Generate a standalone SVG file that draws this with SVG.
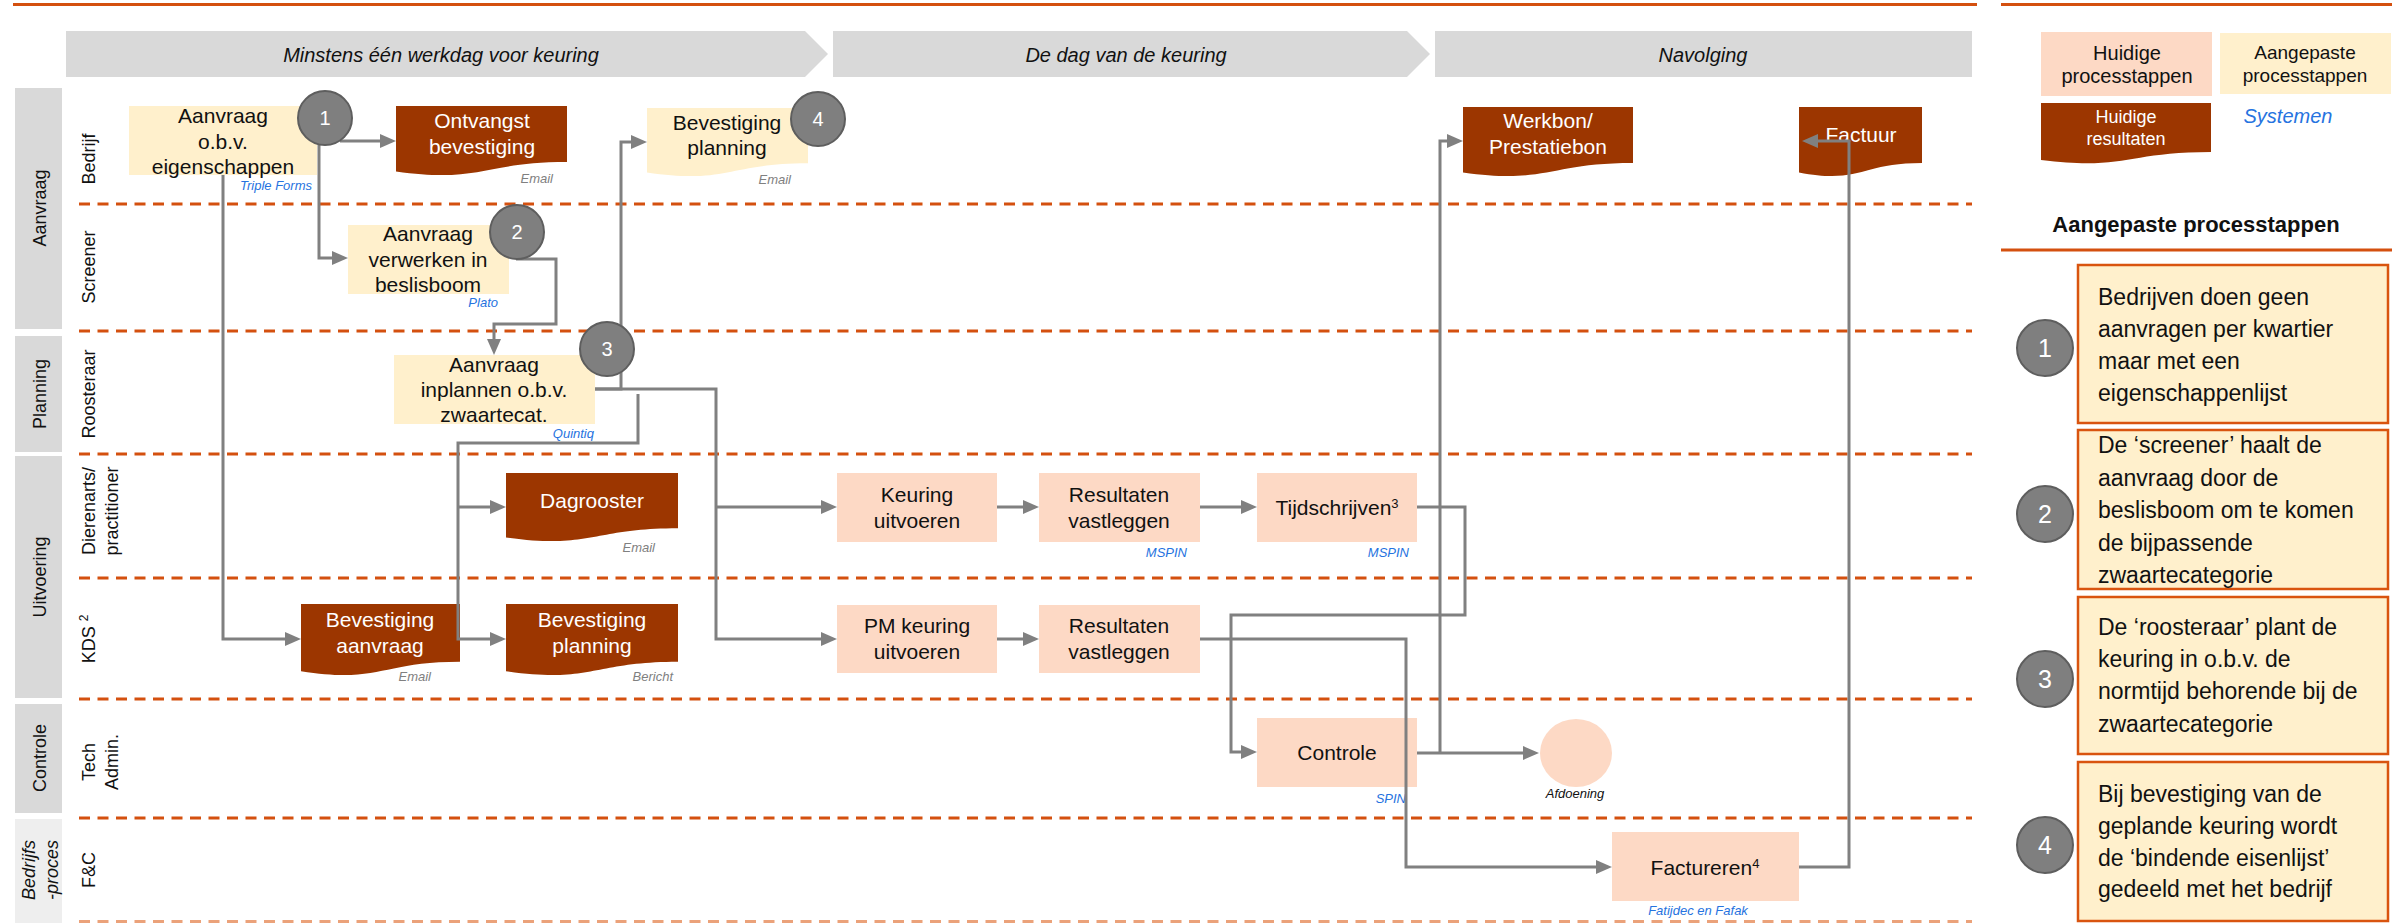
<svg xmlns="http://www.w3.org/2000/svg" width="2403" height="923" viewBox="0 0 2403 923">
<defs>
<style>
text{font-family:"Liberation Sans",Arial,sans-serif;}
.hdr{fill:#D9D9D9;}
.ph{font-size:20px;font-style:italic;fill:#111;text-anchor:middle;}
.grp{fill:#D9D9D9;}
.gl{font-size:18px;fill:#111;text-anchor:middle;}
.ll{font-size:18px;fill:#111;text-anchor:middle;}
.dash{stroke:#D4500F;stroke-width:3;stroke-dasharray:11 7.5;fill:none;}
.cur{fill:#FDD9C5;}
.adj{fill:#FFF0CC;}
.res{fill:#9C3600;}
.t{font-size:21px;fill:#111;text-anchor:middle;}
.tw{font-size:21px;fill:#fff;text-anchor:middle;}
.sys{font-size:13px;font-style:italic;fill:#2673E0;text-anchor:end;}
.em{font-size:13px;font-style:italic;fill:#808080;text-anchor:end;}
.con{stroke:#808080;stroke-width:3;fill:none;marker-end:url(#arr);}
.badge{fill:#7F7F7F;stroke:#5E5E5E;stroke-width:2;}
.bn{font-size:20px;fill:#fff;text-anchor:middle;}
.bn2{font-size:25px;fill:#fff;text-anchor:middle;}
.note{fill:#FFF0CC;stroke:#D9540F;stroke-width:2.5;}
.nt{font-size:23px;fill:#111;}
.orl{stroke:#D4500F;stroke-width:3;}
</style>
<marker id="arr" markerWidth="16" markerHeight="14" refX="8" refY="7" orient="auto" markerUnits="userSpaceOnUse">
<path d="M0,0 L16,7 L0,14 Z" fill="#808080"/>
</marker>
</defs>
<rect width="2403" height="923" fill="#fff"/>

<!-- top lines -->
<line class="orl" x1="13" y1="4.5" x2="1977" y2="4.5"/>
<line class="orl" x1="2001" y1="4.5" x2="2392" y2="4.5"/>

<!-- phase headers -->
<g id="phase1"><polygon class="hdr" points="66,31 805,31 828,54 805,77 66,77"/><text class="ph" x="441" y="62">Minstens één werkdag voor keuring</text></g>
<g id="phase2"><polygon class="hdr" points="833,31 1407,31 1430,54 1407,77 833,77"/><text class="ph" x="1126" y="62">De dag van de keuring</text></g>
<g id="phase3"><rect class="hdr" x="1435" y="31" width="537" height="46"/><text class="ph" x="1703" y="62">Navolging</text></g>

<!-- lane groups -->
<g id="lanegroups">
<rect class="grp" x="15" y="88" width="47" height="241"/>
<rect class="grp" x="15" y="336" width="47" height="116"/>
<rect class="grp" x="15" y="456" width="47" height="242"/>
<rect class="grp" x="15" y="704" width="47" height="109"/>
<rect x="15" y="819" width="47" height="104" fill="#EEEEEE"/>
<text class="gl" transform="translate(40,208) rotate(-90)" dy="0.35em">Aanvraag</text>
<text class="gl" transform="translate(40,394) rotate(-90)" dy="0.35em">Planning</text>
<text class="gl" transform="translate(40,577) rotate(-90)" dy="0.35em">Uitvoering</text>
<text class="gl" transform="translate(40,758) rotate(-90)" dy="0.35em">Controle</text>
<text class="gl" font-style="italic" transform="translate(29,870) rotate(-90)" dy="0.35em">Bedrijfs</text>
<text class="gl" font-style="italic" transform="translate(52,870) rotate(-90)" dy="0.35em">-proces</text>
</g>

<!-- lane labels -->
<g id="lanelabels">
<text class="ll" transform="translate(89,159) rotate(-90)" dy="0.35em">Bedrijf</text>
<text class="ll" transform="translate(89,267) rotate(-90)" dy="0.35em">Screener</text>
<text class="ll" transform="translate(89,394) rotate(-90)" dy="0.35em">Roosteraar</text>
<text class="ll" transform="translate(89,511) rotate(-90)" dy="0.35em">Dierenarts/</text>
<text class="ll" transform="translate(112,511) rotate(-90)" dy="0.35em">practitioner</text>
<text class="ll" transform="translate(89,639) rotate(-90)" dy="0.35em">KDS <tspan font-size="12" baseline-shift="super">2</tspan></text>
<text class="ll" transform="translate(89,762) rotate(-90)" dy="0.35em">Tech</text>
<text class="ll" transform="translate(112,762) rotate(-90)" dy="0.35em">Admin.</text>
<text class="ll" transform="translate(89,870) rotate(-90)" dy="0.35em">F&amp;C</text>
</g>

<!-- lane separators -->
<g id="separators">
<line class="dash" x1="79" y1="204" x2="1972" y2="204"/>
<line class="dash" x1="79" y1="331" x2="1972" y2="331"/>
<line class="dash" x1="79" y1="454" x2="1972" y2="454"/>
<line class="dash" x1="79" y1="578" x2="1972" y2="578"/>
<line class="dash" x1="79" y1="699" x2="1972" y2="699"/>
<line class="dash" x1="79" y1="818" x2="1972" y2="818"/>
<line class="dash" x1="79" y1="921.5" x2="1972" y2="921.5" stroke="#EBA27A" style="stroke:#EBA27A"/>
</g>

<!-- nodes -->
<g id="n-aanvraag"><rect class="adj" x="129" y="106" width="188" height="69"/>
<text class="t" x="223" y="123">Aanvraag</text><text class="t" x="223" y="149">o.b.v.</text><text class="t" x="223" y="174">eigenschappen</text>
<text class="sys" x="312" y="190">Triple Forms</text></g>

<g id="n-ontvangst"><path class="res" d="M396 106 H567 V162.1 C481.5 162.1 481.5 183.5 396 171.4 Z"/>
<text class="tw" x="482" y="128">Ontvangst</text><text class="tw" x="482" y="154">bevestiging</text>
<text class="em" x="553" y="183">Email</text></g>

<g id="n-bevplanning-bedrijf"><path class="adj" d="M647 108 H808 V163.3 C727.5 163.3 727.5 184.4 647 172.4 Z"/>
<text class="t" x="727" y="130">Bevestiging</text><text class="t" x="727" y="155">planning</text>
<text class="em" x="791" y="184">Email</text></g>

<g id="n-verwerken"><rect class="adj" x="348" y="225" width="161" height="69"/>
<text class="t" x="428" y="241">Aanvraag</text><text class="t" x="428" y="267">verwerken in</text><text class="t" x="428" y="292">beslisboom</text>
<text class="sys" x="498" y="307">Plato</text></g>

<g id="n-inplannen"><rect class="adj" x="394" y="355" width="201" height="69"/>
<text class="t" x="494" y="372">Aanvraag</text><text class="t" x="494" y="397">inplannen o.b.v.</text><text class="t" x="494" y="422">zwaartecat.</text>
<text class="sys" x="594" y="438">Quintiq</text></g>

<g id="n-dagrooster"><path class="res" d="M506 473 H678 V528.3 C592 528.3 592 549.4 506 537.4 Z"/>
<text class="tw" x="592" y="508">Dagrooster</text>
<text class="em" x="655" y="552">Email</text></g>

<g id="n-bevaanvraag"><path class="res" d="M301 604 H460 V661.7 C380.5 661.7 380.5 683.7 301 671.2 Z"/>
<text class="tw" x="380" y="627">Bevestiging</text><text class="tw" x="380" y="653">aanvraag</text>
<text class="em" x="431" y="681">Email</text></g>

<g id="n-bevplanning-kds"><path class="res" d="M506 604 H678 V661.7 C592 661.7 592 683.7 506 671.2 Z"/>
<text class="tw" x="592" y="627">Bevestiging</text><text class="tw" x="592" y="653">planning</text>
<text class="em" x="673" y="681">Bericht</text></g>

<g id="n-keuring"><rect class="cur" x="837" y="473" width="160" height="69"/>
<text class="t" x="917" y="502">Keuring</text><text class="t" x="917" y="528">uitvoeren</text></g>

<g id="n-resultaten1"><rect class="cur" x="1039" y="473" width="161" height="69"/>
<text class="t" x="1119" y="502">Resultaten</text><text class="t" x="1119" y="528">vastleggen</text>
<text class="sys" x="1187" y="557">MSPIN</text></g>

<g id="n-tijdschrijven"><rect class="cur" x="1257" y="473" width="160" height="69"/>
<text class="t" x="1337" y="515">Tijdschrijven<tspan font-size="13" baseline-shift="super">3</tspan></text>
<text class="sys" x="1409" y="557">MSPIN</text></g>

<g id="n-pmkeuring"><rect class="cur" x="837" y="605" width="160" height="68"/>
<text class="t" x="917" y="633">PM keuring</text><text class="t" x="917" y="659">uitvoeren</text></g>

<g id="n-resultaten2"><rect class="cur" x="1039" y="605" width="161" height="68"/>
<text class="t" x="1119" y="633">Resultaten</text><text class="t" x="1119" y="659">vastleggen</text></g>

<g id="n-controle"><rect class="cur" x="1257" y="718" width="160" height="69"/>
<text class="t" x="1337" y="760">Controle</text>
<text class="sys" x="1406" y="803">SPIN</text></g>

<g id="n-afdoening"><ellipse class="cur" cx="1576" cy="753" rx="36" ry="34"/>
<text x="1575" y="798" font-size="13" font-style="italic" fill="#111" text-anchor="middle">Afdoening</text></g>

<g id="n-factureren"><rect class="cur" x="1612" y="832" width="187" height="69"/>
<text class="t" x="1705" y="875">Factureren<tspan font-size="13" baseline-shift="super">4</tspan></text>
<text class="sys" x="1698" y="915" style="text-anchor:middle">Fatijdec en Fafak</text></g>

<g id="n-werkbon"><path class="res" d="M1463 107 H1633 V163.1 C1548 163.1 1548 184.5 1463 172.4 Z"/>
<text class="tw" x="1548" y="128">Werkbon/</text><text class="tw" x="1548" y="154">Prestatiebon</text></g>

<g id="n-factuur"><path class="res" d="M1799 107 H1922 V163.1 C1860.5 163.1 1860.5 184.5 1799 172.4 Z"/>
<text class="tw" x="1861" y="142">Factuur</text></g>

<!-- connectors -->
<g id="connectors">
<path class="con" d="M340 141 H388"/>
<path class="con" d="M319 144 V258 H340"/>
<path class="con" d="M223 175 V639 H293"/>
<path class="con" d="M516 259 H556 V324 H494 V347"/>
<path class="con" d="M595 389 H621 V142 H639"/>
<path class="con" d="M595 389 H716 V639 H829"/>
<path class="con" d="M716 507 H829"/>
<path class="con" d="M638 394 V443 H458 V639 H498"/>
<path class="con" d="M458 507 H498"/>
<path class="con" d="M997 507 H1031"/>
<path class="con" d="M1200 507 H1249"/>
<path class="con" d="M1417 507 H1465 V615 H1231 V752 H1249"/>
<path class="con" d="M997 639 H1031"/>
<path class="con" d="M1200 639 H1406 V867 H1604"/>
<path class="con" d="M1417 753 H1531"/>
<path class="con" d="M1440 753 V141 H1455"/>
<path class="con" d="M1799 867 H1849 V141 H1810"/>
</g>

<!-- badges -->
<g id="badge1"><circle class="badge" cx="325" cy="118" r="27"/><text class="bn" x="325" y="125">1</text></g>
<g id="badge2"><circle class="badge" cx="517" cy="232" r="27"/><text class="bn" x="517" y="239">2</text></g>
<g id="badge3"><circle class="badge" cx="607" cy="349" r="27"/><text class="bn" x="607" y="356">3</text></g>
<g id="badge4"><circle class="badge" cx="818" cy="119" r="27"/><text class="bn" x="818" y="126">4</text></g>

<!-- legend -->
<g id="legend">
<rect class="cur" x="2041" y="32" width="171" height="64"/>
<text x="2127" y="60" font-size="20" fill="#111" text-anchor="middle">Huidige</text>
<text x="2127" y="83" font-size="20" fill="#111" text-anchor="middle">processtappen</text>
<rect class="adj" x="2220" y="33" width="171" height="61"/>
<text x="2305" y="59" font-size="19" fill="#111" text-anchor="middle">Aangepaste</text>
<text x="2305" y="82" font-size="19" fill="#111" text-anchor="middle">processtappen</text>
<path class="res" d="M2041 103 H2211 V151.9 C2126 151.9 2126 170.6 2041 160 Z"/>
<text x="2126" y="123" font-size="18" fill="#fff" text-anchor="middle">Huidige</text>
<text x="2126" y="145" font-size="18" fill="#fff" text-anchor="middle">resultaten</text>
<text x="2288" y="123" font-size="20" font-style="italic" fill="#2673E0" text-anchor="middle">Systemen</text>
</g>

<g id="notes-header">
<text x="2196" y="232" font-size="22" font-weight="bold" fill="#111" text-anchor="middle">Aangepaste processtappen</text>
<line class="orl" x1="2001" y1="250" x2="2392" y2="250"/>
</g>

<g id="note1"><rect class="note" x="2078" y="265" width="310" height="158"/>
<text class="nt" x="2098" y="305">Bedrijven doen geen</text>
<text class="nt" x="2098" y="337">aanvragen per kwartier</text>
<text class="nt" x="2098" y="369">maar met een</text>
<text class="nt" x="2098" y="401">eigenschappenlijst</text>
<circle class="badge" cx="2045" cy="348" r="28"/><text class="bn2" x="2045" y="357">1</text></g>

<g id="note2"><rect class="note" x="2078" y="430" width="310" height="159"/>
<text class="nt" x="2098" y="453">De ‘screener’ haalt de</text>
<text class="nt" x="2098" y="486">aanvraag door de</text>
<text class="nt" x="2098" y="518">beslisboom om te komen</text>
<text class="nt" x="2098" y="551">de bijpassende</text>
<text class="nt" x="2098" y="583">zwaartecategorie</text>
<circle class="badge" cx="2045" cy="514" r="28"/><text class="bn2" x="2045" y="523">2</text></g>

<g id="note3"><rect class="note" x="2078" y="597" width="310" height="157"/>
<text class="nt" x="2098" y="635">De ‘roosteraar’ plant de</text>
<text class="nt" x="2098" y="667">keuring in o.b.v. de</text>
<text class="nt" x="2098" y="699">normtijd behorende bij de</text>
<text class="nt" x="2098" y="732">zwaartecategorie</text>
<circle class="badge" cx="2045" cy="679" r="28"/><text class="bn2" x="2045" y="688">3</text></g>

<g id="note4"><rect class="note" x="2078" y="762" width="310" height="159"/>
<text class="nt" x="2098" y="802">Bij bevestiging van de</text>
<text class="nt" x="2098" y="834">geplande keuring wordt</text>
<text class="nt" x="2098" y="866">de ‘bindende eisenlijst’</text>
<text class="nt" x="2098" y="897">gedeeld met het bedrijf</text>
<circle class="badge" cx="2045" cy="845" r="28"/><text class="bn2" x="2045" y="854">4</text></g>
</svg>
